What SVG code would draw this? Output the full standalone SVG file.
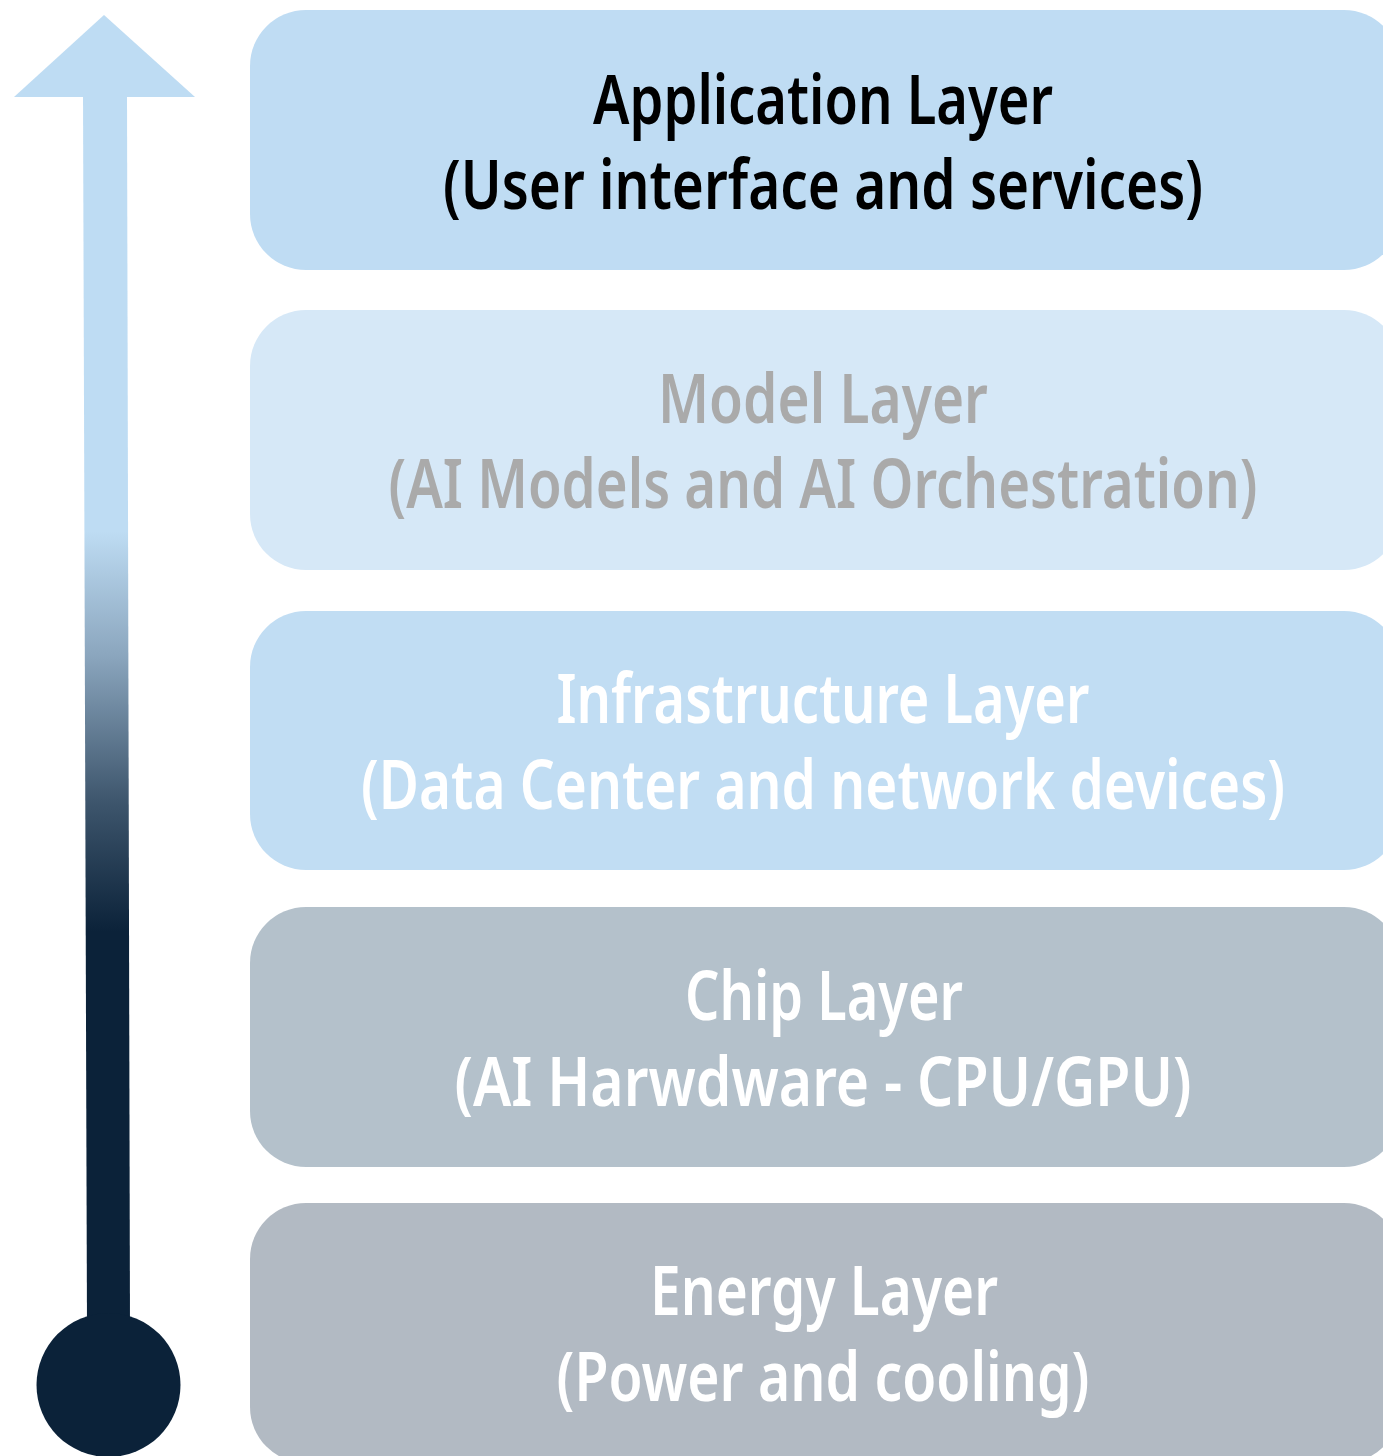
<svg xmlns="http://www.w3.org/2000/svg" width="1383" height="1456" viewBox="0 0 1383 1456">
  <defs>
    <linearGradient id="shaftGrad" gradientUnits="userSpaceOnUse" x1="0" y1="0" x2="0" y2="1456">
      <stop offset="0" stop-color="#BEDCF3"/>
      <stop offset="0.365" stop-color="#BEDCF3"/>
      <stop offset="0.45" stop-color="#8BA6BE"/>
      <stop offset="0.55" stop-color="#3E566D"/>
      <stop offset="0.64" stop-color="#0B2239"/>
      <stop offset="1" stop-color="#0B2239"/>
    </linearGradient>
    <style>
      .box { stroke: none; }
      .lbl { font-family: "Noto Sans", "Open Sans", "Liberation Sans", sans-serif; font-weight: 600; font-size: 68px; text-anchor: middle; }
    </style>
  </defs>
  <rect width="1383" height="1456" fill="#FFFFFF"/>

  <g id="connectors">
    <g id="arrow">
      <polygon points="14,97 104,15 195,97" fill="#BEDCF3"/>
      <polygon points="83,96 127,96 130,1330 87,1330" fill="url(#shaftGrad)"/>
      <circle cx="108.5" cy="1385" r="72" fill="#0B2239"/>
    </g>
  </g>

  <g id="application-layer">
    <rect class="box" x="250" y="10" width="1150" height="260" rx="56" fill="#BFDCF3"/>
    <text class="lbl" x="823" y="124" fill="#000000" textLength="460" lengthAdjust="spacingAndGlyphs">Application Layer</text>
    <text class="lbl" x="823" y="209" fill="#000000" textLength="760" lengthAdjust="spacingAndGlyphs">(User interface and services)</text>
  </g>

  <g id="model-layer">
    <rect class="box" x="250" y="310" width="1150" height="260" rx="56" fill="#D6E8F7"/>
    <text class="lbl" x="823" y="423" fill="#AAAAAA" textLength="330" lengthAdjust="spacingAndGlyphs">Model Layer</text>
    <text class="lbl" x="823" y="508" fill="#AAAAAA" textLength="869" lengthAdjust="spacingAndGlyphs">(AI Models and AI Orchestration)</text>
  </g>

  <g id="infrastructure-layer">
    <rect class="box" x="250" y="611" width="1150" height="259" rx="56" fill="#C1DDF3"/>
    <text class="lbl" x="823" y="723" fill="#FFFFFF" textLength="533" lengthAdjust="spacingAndGlyphs">Infrastructure Layer</text>
    <text class="lbl" x="823" y="809" fill="#FFFFFF" textLength="924" lengthAdjust="spacingAndGlyphs">(Data Center and network devices)</text>
  </g>

  <g id="chip-layer">
    <rect class="box" x="250" y="907" width="1150" height="260" rx="56" fill="#B4C1CB"/>
    <text class="lbl" x="824" y="1020" fill="#FFFFFF" textLength="278" lengthAdjust="spacingAndGlyphs">Chip Layer</text>
    <text class="lbl" x="823" y="1106" fill="#FFFFFF" textLength="737" lengthAdjust="spacingAndGlyphs">(AI Harwdware - CPU/GPU)</text>
  </g>

  <g id="energy-layer">
    <rect class="box" x="250" y="1203" width="1150" height="260" rx="56" fill="#B2BAC3"/>
    <text class="lbl" x="824" y="1315" fill="#FFFFFF" textLength="348" lengthAdjust="spacingAndGlyphs">Energy Layer</text>
    <text class="lbl" x="823" y="1401" fill="#FFFFFF" textLength="533" lengthAdjust="spacingAndGlyphs">(Power and cooling)</text>
  </g>
</svg>
